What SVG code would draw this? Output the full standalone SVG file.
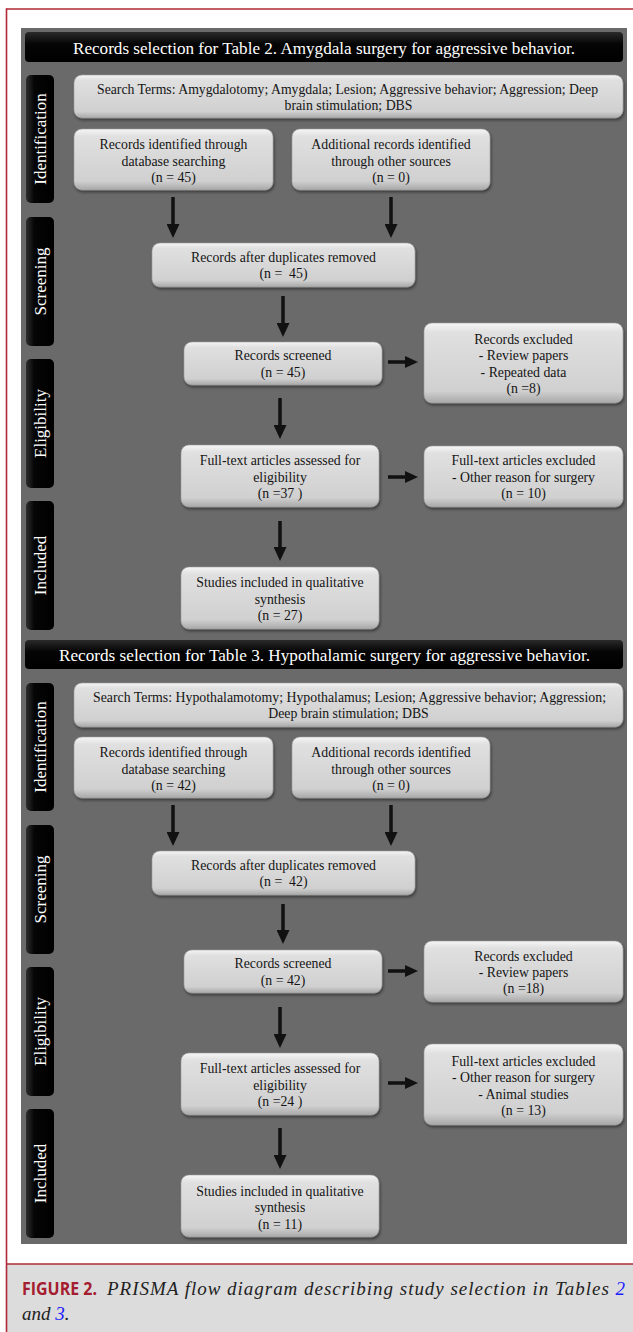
<svg xmlns="http://www.w3.org/2000/svg" width="633" height="1332" viewBox="0 0 633 1332">
<defs>
<linearGradient id="boxg" x1="0" y1="0" x2="0" y2="1">
<stop offset="0" stop-color="#f6f6f6"/>
<stop offset="0.12" stop-color="#e0e0e0"/>
<stop offset="0.85" stop-color="#d0d0d0"/>
<stop offset="1" stop-color="#a8a8a8"/>
</linearGradient>
<linearGradient id="darkg" x1="0" y1="0" x2="1" y2="0">
<stop offset="0" stop-color="#2e2e2e"/>
<stop offset="0.3" stop-color="#050505"/>
<stop offset="1" stop-color="#000"/>
</linearGradient>
<linearGradient id="headg" x1="0" y1="0" x2="0" y2="1">
<stop offset="0" stop-color="#2a2a2a"/>
<stop offset="0.4" stop-color="#050505"/>
<stop offset="1" stop-color="#000"/>
</linearGradient>
<filter id="sh" x="-5%" y="-10%" width="110%" height="130%">
<feDropShadow dx="1" dy="2" stdDeviation="1.5" flood-color="#000" flood-opacity="0.45"/>
</filter>
<marker id="ah" viewBox="0 0 14 13" refX="0" refY="6.5" markerWidth="14" markerHeight="13" markerUnits="userSpaceOnUse" orient="auto">
<path d="M0,0 L14,6.5 L0,13 Z" fill="#111"/>
</marker>
<marker id="ahs" viewBox="0 0 13 12" refX="0" refY="6" markerWidth="13" markerHeight="12" markerUnits="userSpaceOnUse" orient="auto">
<path d="M0,0 L13,6 L0,12 Z" fill="#111"/>
</marker>
</defs>
<style>
.box{fill:url(#boxg);stroke:#9a9a9a;stroke-width:0.6;filter:url(#sh)}
.tab{fill:url(#darkg)}
.head{fill:url(#headg)}
.bt{font-family:"Liberation Serif","Times New Roman",serif;font-size:13.8px;fill:#151515;text-anchor:middle}
.st{font-family:"Liberation Serif","Times New Roman",serif;font-size:13.8px;fill:#151515;text-anchor:middle}
.ht{font-family:"Liberation Serif","Times New Roman",serif;font-size:17px;fill:#fff}
.tt{font-family:"Liberation Serif","Times New Roman",serif;font-size:17px;fill:#fff;text-anchor:middle}
.ar{stroke:#111;stroke-width:3.5;fill:none;marker-end:url(#ah)}
.ars{stroke:#111;stroke-width:3.5;fill:none;marker-end:url(#ahs)}
.cap{font-family:"Liberation Serif","Times New Roman",serif;font-style:italic;font-size:19px;fill:#222}
.fig{font-family:"Open Sans","Liberation Sans",sans-serif;font-weight:700;font-size:18px;fill:#a51d30}
.lnk{fill:#1c1cff}
</style>
<rect x="0" y="0" width="633" height="1332" fill="#fff"/>
<rect x="7" y="1264" width="626" height="68" fill="#dcdcdc"/>
<line x1="6.5" y1="9" x2="633" y2="9" stroke="#b02a35" stroke-width="1.6"/>
<line x1="6.5" y1="8.2" x2="6.5" y2="1332" stroke="#b02a35" stroke-width="1.6"/>
<line x1="7" y1="1264" x2="633" y2="1264" stroke="#b02a35" stroke-width="1.4"/>
<rect x="21" y="28" width="606" height="1216" fill="#6a6a6a"/>

<g id="header1"><rect class="head" x="25" y="32" width="598" height="30" rx="4"/><text class="ht" x="73" y="53.5" textLength="502" lengthAdjust="spacingAndGlyphs">Records selection for Table 2. Amygdala surgery for aggressive behavior.</text></g>
<g id="tab1-identification"><rect class="tab" x="26" y="75" width="28" height="128" rx="5"/><text class="tt" transform="translate(46,139) rotate(-90)">Identification</text></g>
<g id="tab1-screening"><rect class="tab" x="26" y="217" width="28" height="129" rx="5"/><text class="tt" transform="translate(46,281.5) rotate(-90)">Screening</text></g>
<g id="tab1-eligibility"><rect class="tab" x="26" y="359" width="28" height="129" rx="5"/><text class="tt" transform="translate(46,423.5) rotate(-90)">Eligibility</text></g>
<g id="tab1-included"><rect class="tab" x="26" y="501" width="28" height="129" rx="5"/><text class="tt" transform="translate(46,565.5) rotate(-90)">Included</text></g>

<g id="search1"><rect class="box" x="74" y="75" width="549" height="43" rx="8"/><text class="st" x="347.5" y="93.5" textLength="501" lengthAdjust="spacingAndGlyphs">Search Terms: Amygdalotomy; Amygdala; Lesion; Aggressive behavior; Aggression; Deep</text><text class="st" x="348.5" y="110">brain stimulation; DBS</text></g>
<g id="identified1"><rect class="box" x="74" y="129" width="199" height="61" rx="8"/><text class="bt" x="173.5" y="148.5">Records identified through</text><text class="bt" x="173.5" y="165.5">database searching</text><text class="bt" x="173.5" y="182">(n = 45)</text></g>
<g id="additional1"><rect class="box" x="292" y="129" width="198" height="61" rx="8"/><text class="bt" x="391" y="148.5">Additional records identified</text><text class="bt" x="391" y="165.5">through other sources</text><text class="bt" x="391" y="182">(n = 0)</text></g>
<g id="duplicates1"><rect class="box" x="152" y="243" width="263" height="44" rx="8"/><text class="bt" x="283.5" y="261.5">Records after duplicates removed</text><text class="bt" x="283.5" y="278" xml:space="preserve">(n =  45)</text></g>
<g id="screened1"><rect class="box" x="184" y="342" width="198" height="43" rx="8"/><text class="bt" x="283" y="359.5">Records screened</text><text class="bt" x="283" y="377">(n = 45)</text></g>
<g id="excluded1"><rect class="box" x="424" y="323" width="199" height="80" rx="8"/><text class="bt" x="523.5" y="343.5">Records excluded</text><text class="bt" x="523.5" y="360">- Review papers</text><text class="bt" x="523.5" y="376.5">- Repeated data</text><text class="bt" x="523.5" y="393">(n =8)</text></g>
<g id="fulltext1"><rect class="box" x="181" y="445" width="198" height="62" rx="8"/><text class="bt" x="280" y="465">Full-text articles assessed for</text><text class="bt" x="280" y="482">eligibility</text><text class="bt" x="280" y="498">(n =37 )</text></g>
<g id="ftexcluded1"><rect class="box" x="424" y="446" width="199" height="61" rx="8"/><text class="bt" x="523.5" y="465">Full-text articles excluded</text><text class="bt" x="523.5" y="482">- Other reason for surgery</text><text class="bt" x="523.5" y="498">(n = 10)</text></g>
<g id="included1"><rect class="box" x="181" y="567" width="198" height="62" rx="8"/><text class="bt" x="280" y="587">Studies included in qualitative</text><text class="bt" x="280" y="604">synthesis</text><text class="bt" x="280" y="620">(n = 27)</text></g>

<g id="header2"><rect class="head" x="25" y="640" width="598" height="29" rx="4"/><text class="ht" x="59" y="661" textLength="531" lengthAdjust="spacingAndGlyphs">Records selection for Table 3. Hypothalamic surgery for aggressive behavior.</text></g>
<g id="tab2-identification"><rect class="tab" x="26" y="683" width="28" height="128" rx="5"/><text class="tt" transform="translate(46,747) rotate(-90)">Identification</text></g>
<g id="tab2-screening"><rect class="tab" x="26" y="825" width="28" height="129" rx="5"/><text class="tt" transform="translate(46,889.5) rotate(-90)">Screening</text></g>
<g id="tab2-eligibility"><rect class="tab" x="26" y="967" width="28" height="129" rx="5"/><text class="tt" transform="translate(46,1031.5) rotate(-90)">Eligibility</text></g>
<g id="tab2-included"><rect class="tab" x="26" y="1109" width="28" height="129" rx="5"/><text class="tt" transform="translate(46,1173.5) rotate(-90)">Included</text></g>

<g id="search2"><rect class="box" x="74" y="683" width="549" height="44" rx="8"/><text class="st" x="349.5" y="701.5" textLength="513" lengthAdjust="spacingAndGlyphs">Search Terms: Hypothalamotomy; Hypothalamus; Lesion; Aggressive behavior; Aggression;</text><text class="st" x="348.5" y="718">Deep brain stimulation; DBS</text></g>
<g id="identified2"><rect class="box" x="74" y="737" width="199" height="61" rx="8"/><text class="bt" x="173.5" y="756.5">Records identified through</text><text class="bt" x="173.5" y="773.5">database searching</text><text class="bt" x="173.5" y="790">(n = 42)</text></g>
<g id="additional2"><rect class="box" x="292" y="737" width="198" height="61" rx="8"/><text class="bt" x="391" y="756.5">Additional records identified</text><text class="bt" x="391" y="773.5">through other sources</text><text class="bt" x="391" y="790">(n = 0)</text></g>
<g id="duplicates2"><rect class="box" x="152" y="851" width="263" height="44" rx="8"/><text class="bt" x="283.5" y="869.5">Records after duplicates removed</text><text class="bt" x="283.5" y="886" xml:space="preserve">(n =  42)</text></g>
<g id="screened2"><rect class="box" x="184" y="950" width="198" height="43" rx="8"/><text class="bt" x="283" y="967.5">Records screened</text><text class="bt" x="283" y="985">(n = 42)</text></g>
<g id="excluded2"><rect class="box" x="424" y="941" width="199" height="61" rx="8"/><text class="bt" x="523.5" y="960.5">Records excluded</text><text class="bt" x="523.5" y="976.5">- Review papers</text><text class="bt" x="523.5" y="993">(n =18)</text></g>
<g id="fulltext2"><rect class="box" x="181" y="1053" width="198" height="62" rx="8"/><text class="bt" x="280" y="1072.5">Full-text articles assessed for</text><text class="bt" x="280" y="1089.5">eligibility</text><text class="bt" x="280" y="1106">(n =24 )</text></g>
<g id="ftexcluded2"><rect class="box" x="424" y="1044" width="199" height="81" rx="8"/><text class="bt" x="523.5" y="1065.5">Full-text articles excluded</text><text class="bt" x="523.5" y="1081.5">- Other reason for surgery</text><text class="bt" x="523.5" y="1098.5">- Animal studies</text><text class="bt" x="523.5" y="1115">(n = 13)</text></g>
<g id="included2"><rect class="box" x="181" y="1175" width="198" height="62" rx="8"/><text class="bt" x="280" y="1195.5">Studies included in qualitative</text><text class="bt" x="280" y="1212">synthesis</text><text class="bt" x="280" y="1228.5">(n = 11)</text></g>

<g id="connectors">
<line class="ar" x1="173" y1="197" x2="173" y2="224"/>
<line class="ar" x1="391" y1="197" x2="391" y2="224"/>
<line class="ar" x1="283" y1="296" x2="283" y2="323"/>
<line class="ar" x1="280" y1="398" x2="280" y2="425"/>
<line class="ar" x1="280" y1="521" x2="280" y2="547"/>
<line class="ars" x1="388" y1="362" x2="405" y2="362"/>
<line class="ars" x1="388" y1="477" x2="405" y2="477"/>
<line class="ar" x1="173" y1="805" x2="173" y2="832"/>
<line class="ar" x1="391" y1="805" x2="391" y2="832"/>
<line class="ar" x1="283" y1="904" x2="283" y2="930"/>
<line class="ar" x1="280" y1="1007" x2="280" y2="1034"/>
<line class="ar" x1="280" y1="1128" x2="280" y2="1155"/>
<line class="ars" x1="388" y1="971" x2="405" y2="971"/>
<line class="ars" x1="388" y1="1083" x2="405" y2="1083"/>
</g>

<g id="caption">
<text class="fig" x="22" y="1295" textLength="75" lengthAdjust="spacingAndGlyphs">FIGURE 2.</text>
<text class="cap" x="107" y="1295" textLength="518" lengthAdjust="spacing">PRISMA flow diagram describing study selection in Tables <tspan class="lnk">2</tspan></text>
<text class="cap" x="22" y="1320">and <tspan class="lnk">3</tspan>.</text>
</g>
</svg>
